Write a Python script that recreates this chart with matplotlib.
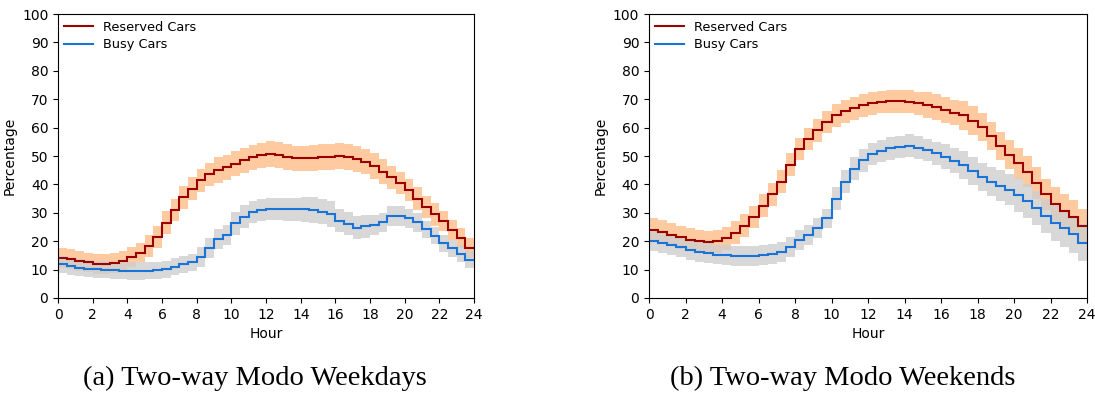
import matplotlib.pyplot as plt
import numpy as np

# half-hour bins, 0:00 .. 23:30
edges = np.arange(0, 24.5, 0.5)

# (a) weekdays
reserved_wd = [14.2, 13.6, 13.0, 12.5, 12.1, 12.0, 12.3, 13.2, 14.5, 16.0, 18.3, 21.5,
               26.5, 31.0, 35.5, 38.5, 41.5, 43.5, 45.0, 46.0, 47.3, 48.5, 49.5, 50.2,
               50.7, 50.3, 49.6, 49.2, 49.2, 49.4, 49.6, 49.7, 50.0, 49.6, 49.0, 48.0,
               46.5, 44.5, 42.5, 40.5, 38.0, 35.0, 32.0, 29.5, 27.0, 24.0, 21.0, 17.5]
busy_wd = [11.9, 11.2, 10.7, 10.3, 10.1, 9.9, 9.7, 9.6, 9.5, 9.5, 9.6, 9.8,
           10.2, 11.0, 11.8, 12.6, 14.3, 17.5, 20.8, 22.2, 26.3, 28.6, 30.3, 31.0,
           31.3, 31.3, 31.2, 31.2, 31.2, 31.0, 30.4, 29.6, 27.2, 26.2, 24.8, 25.2,
           25.7, 26.6, 28.8, 29.0, 28.0, 26.6, 24.2, 22.0, 19.2, 17.5, 15.5, 13.5]
# hourly half-width of the shaded band
reserved_wd_band = [3.5, 3.5, 3.5, 3.5, 3.5, 4, 4, 4, 4, 4.5, 4.5, 4.5,
                    4.5, 4.5, 4.5, 4.5, 4.5, 4.5, 4.5, 4, 4, 4, 3.5, 3.5]
busy_wd_band = [3, 3, 3, 3, 3, 3, 3, 3, 3.5, 3.5, 4, 4,
                4, 4, 4.5, 4.5, 4, 4, 3.5, 3.5, 3.5, 3, 3, 3]

# (b) weekends
reserved_we = [24.0, 23.3, 22.3, 21.4, 20.5, 19.9, 19.6, 20.0, 21.0, 23.0, 25.5, 28.5,
               32.5, 36.5, 41.0, 47.0, 52.5, 56.0, 59.0, 62.0, 64.3, 65.8, 66.8, 67.8,
               68.5, 69.0, 69.3, 69.3, 69.2, 68.6, 68.0, 67.2, 66.2, 65.3, 64.3, 62.5,
               60.3, 57.0, 53.5, 50.5, 47.5, 44.5, 40.5, 36.5, 33.0, 30.5, 28.5, 25.5]
busy_we = [20.2, 19.5, 18.7, 17.8, 16.9, 16.2, 15.7, 15.3, 15.1, 14.9, 14.8, 14.9,
           15.1, 15.6, 16.3, 18.0, 20.4, 22.3, 24.5, 28.0, 35.0, 41.0, 45.5, 48.5,
           50.7, 51.8, 52.7, 53.2, 53.6, 53.0, 52.1, 51.0, 49.8, 48.4, 46.8, 44.7,
           42.7, 41.0, 39.6, 38.2, 36.3, 34.0, 31.6, 29.0, 26.5, 24.5, 22.5, 19.5]
reserved_we_band = [4, 4, 4, 4, 4, 4, 4, 4, 4, 4, 4, 4,
                    4, 4, 4, 4.5, 4.5, 5, 5, 5, 5.5, 5.5, 6, 6]
busy_we_band = [3.5, 3.5, 3.5, 3.5, 3.5, 3.5, 3.5, 3.5, 3.5, 3.5, 4, 4,
                4, 4, 4, 4, 4.5, 5, 5, 5.5, 6, 6, 6.5, 6.5]

captions = ["(a) Two-way Modo Weekdays", "(b) Two-way Modo Weekends"]

red = "#9b0000"
blue = "#1a74d8"
orange = "#ffcaa0"
grey = "#cfcfcf"

fig = plt.figure(figsize=(10.95, 3.96), dpi=100)
ax1 = fig.add_axes([0.053, 0.2475, 0.380, 0.717])
ax2 = fig.add_axes([0.5927, 0.2475, 0.400, 0.717])

panels = [
    (ax1, reserved_wd, busy_wd, reserved_wd_band, busy_wd_band),
    (ax2, reserved_we, busy_we, reserved_we_band, busy_we_band),
]

for ax, res, busy, res_b, busy_b in panels:
    res = np.array(res)
    busy = np.array(busy)
    rb = np.repeat(res_b, 2)
    bb = np.repeat(busy_b, 2)
    ax.stairs(res + rb, edges, baseline=res - rb, fill=True, color=orange, lw=0)
    ax.stairs(busy + bb, edges, baseline=busy - bb, fill=True, color=grey, alpha=0.8, lw=0)
    ax.stairs(res, edges, color=red, lw=1.5, baseline=None, label="Reserved Cars")
    ax.stairs(busy, edges, color=blue, lw=1.5, baseline=None, label="Busy Cars")
    ax.set_xlim(0, 24)
    ax.set_ylim(0, 100)
    ax.set_xticks(range(0, 25, 2))
    ax.set_yticks(range(0, 101, 10))
    ax.tick_params(labelsize=10)
    ax.set_xlabel("Hour", fontsize=10)
    ax.set_ylabel("Percentage", fontsize=10)
    ax.legend(loc="upper left", frameon=False, fontsize=9.3, handlelength=2.2,
              borderaxespad=0.1, labelspacing=0.35)

fig.text(0.233, 0.045, captions[0], ha="center", va="center",
         family="Liberation Serif", fontsize=20.5)
fig.text(0.770, 0.045, captions[1], ha="center", va="center",
         family="Liberation Serif", fontsize=20.5)

fig.savefig("out.png", dpi=100)
